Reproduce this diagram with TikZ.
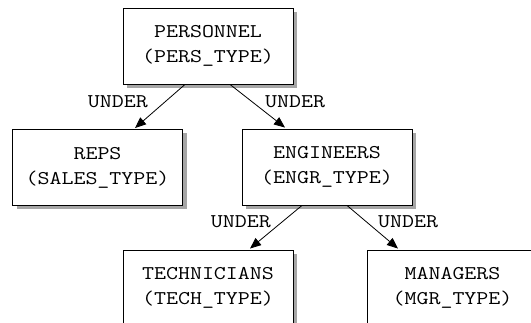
\documentclass[tikz,border=0pt]{standalone}
\usepackage{fontspec}
\newfontfamily\courfont[FakeStretch=1.2]{Latin Modern Mono}
\usetikzlibrary{arrows.meta,shadows,calc}
\tikzset{
  entity/.style={draw=black, line width=0.9pt, fill=white, minimum width=170pt, minimum height=76pt,
    inner sep=0pt, align=center, font=\courfont\fontsize{19.4}{25}\selectfont,
    drop shadow={shadow xshift=4pt, shadow yshift=-4pt, fill=black!35, opacity=1}},
  rel/.style={font=\courfont\fontsize{19.4}{25}\selectfont, inner sep=0pt},
  link/.style={draw=black, line width=0.8pt, -{Triangle[length=11pt,width=9pt]}}
}
\begin{document}
\begin{tikzpicture}[x=1pt,y=1pt]
\useasboundingbox (0,0) rectangle (531,-323);
\clip (0,0) rectangle (531,-323);
\node[entity] (pers) at (208,-46) {PERSONNEL\\(PERS\_TYPE)};
\node[entity] (reps) at (97.5,-167.5) {REPS\\(SALES\_TYPE)};
\node[entity] (engr) at (327,-167) {ENGINEERS\\(ENGR\_TYPE)};
\node[entity] (tech) at (208,-288) {TECHNICIANS\\(TECH\_TYPE)};
\node[entity] (mgr) at (452.5,-288) {MANAGERS\\(MGR\_TYPE)};
\draw[link] ($(pers.south)+(-23,0)$) -- ($(reps.north)+(37.5,1)$);
\draw[link] ($(pers.south)+(22,0)$) -- ($(engr.north)+(-42,1)$);
\draw[link] ($(engr.south)+(-25,0)$) -- ($(tech.north)+(42,1)$);
\draw[link] ($(engr.south)+(20,0)$) -- ($(mgr.north)+(-54.5,1)$);
\node[rel, anchor=base east] (u1) at (148,-108) {UNDER};
\node[rel, anchor=base west] (u2) at (265,-108) {UNDER};
\node[rel, anchor=base east] (u3) at (271,-228) {UNDER};
\node[rel, anchor=base west] (u4) at (378,-228) {UNDER};
\end{tikzpicture}
\end{document}
